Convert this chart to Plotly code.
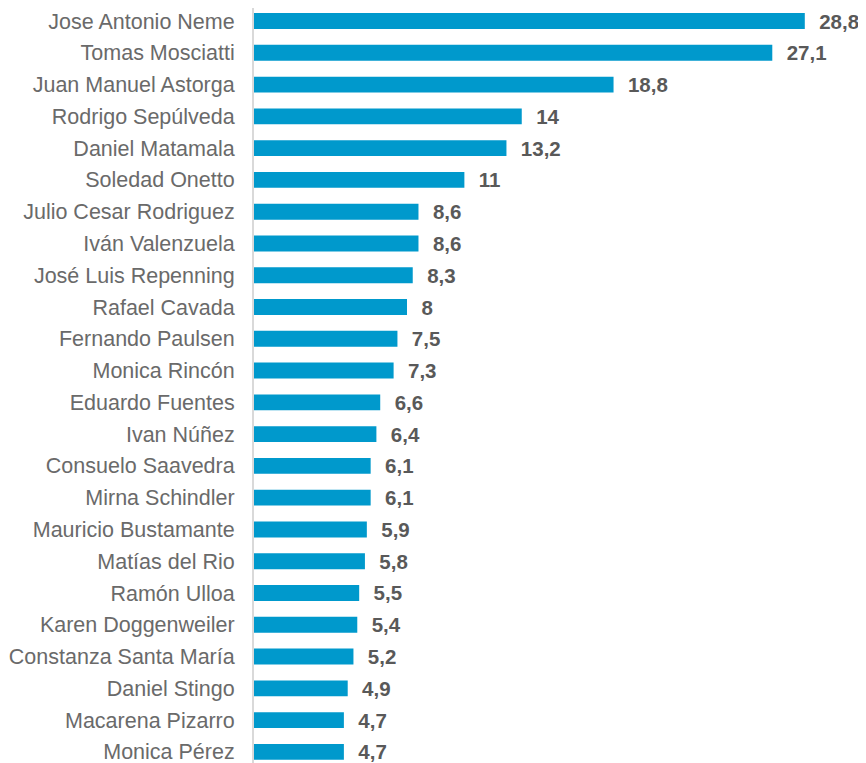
import plotly.graph_objects as go

names = [
    "Jose Antonio Neme", "Tomas Mosciatti", "Juan Manuel Astorga", "Rodrigo Sepúlveda",
    "Daniel Matamala", "Soledad Onetto", "Julio Cesar Rodriguez", "Iván Valenzuela",
    "José Luis Repenning", "Rafael Cavada", "Fernando Paulsen", "Monica Rincón",
    "Eduardo Fuentes", "Ivan Núñez", "Consuelo Saavedra", "Mirna Schindler",
    "Mauricio Bustamante", "Matías del Rio", "Ramón Ulloa", "Karen Doggenweiler",
    "Constanza Santa María", "Daniel Stingo", "Macarena Pizarro", "Monica Pérez",
]
values = [28.8, 27.1, 18.8, 14, 13.2, 11, 8.6, 8.6, 8.3, 8, 7.5, 7.3,
          6.6, 6.4, 6.1, 6.1, 5.9, 5.8, 5.5, 5.4, 5.2, 4.9, 4.7, 4.7]

# Spanish-style decimal comma, small gap before the number
labels = ["\u00a0\u00a0" + f"{v:g}".replace(".", ",") for v in values]

FONT = "Liberation Sans, Arial, sans-serif"

fig = go.Figure(go.Bar(
    x=values,
    y=names,
    orientation="h",
    marker=dict(color="#0099CC", line=dict(width=0)),
    text=labels,
    texttemplate="<b>%{text}</b>",
    textposition="outside",
    constraintext="none",
    textfont=dict(family=FONT, size=20.5, color="#595959"),
    cliponaxis=False,
    width=0.5,
))

# page body has an 8px margin, so the figure is sized to end at the window edge
fig.update_layout(
    width=858,
    height=755,
    margin=dict(l=246, r=0, t=0, b=0),
    paper_bgcolor="white",
    plot_bgcolor="white",
    showlegend=False,
    font=dict(family=FONT, size=21.5, color="#6a6a6a"),
)
fig.update_xaxes(range=[0, 32], visible=False)
fig.update_yaxes(
    type="category",
    range=[23.35, -0.41],
    showline=True,
    linecolor="#d9d9d9",
    linewidth=2,
    showgrid=False,
    ticks="",
    ticklabelstandoff=13,
    tickfont=dict(family=FONT, size=21.5, color="#6a6a6a"),
)

fig.write_html("out.html")
